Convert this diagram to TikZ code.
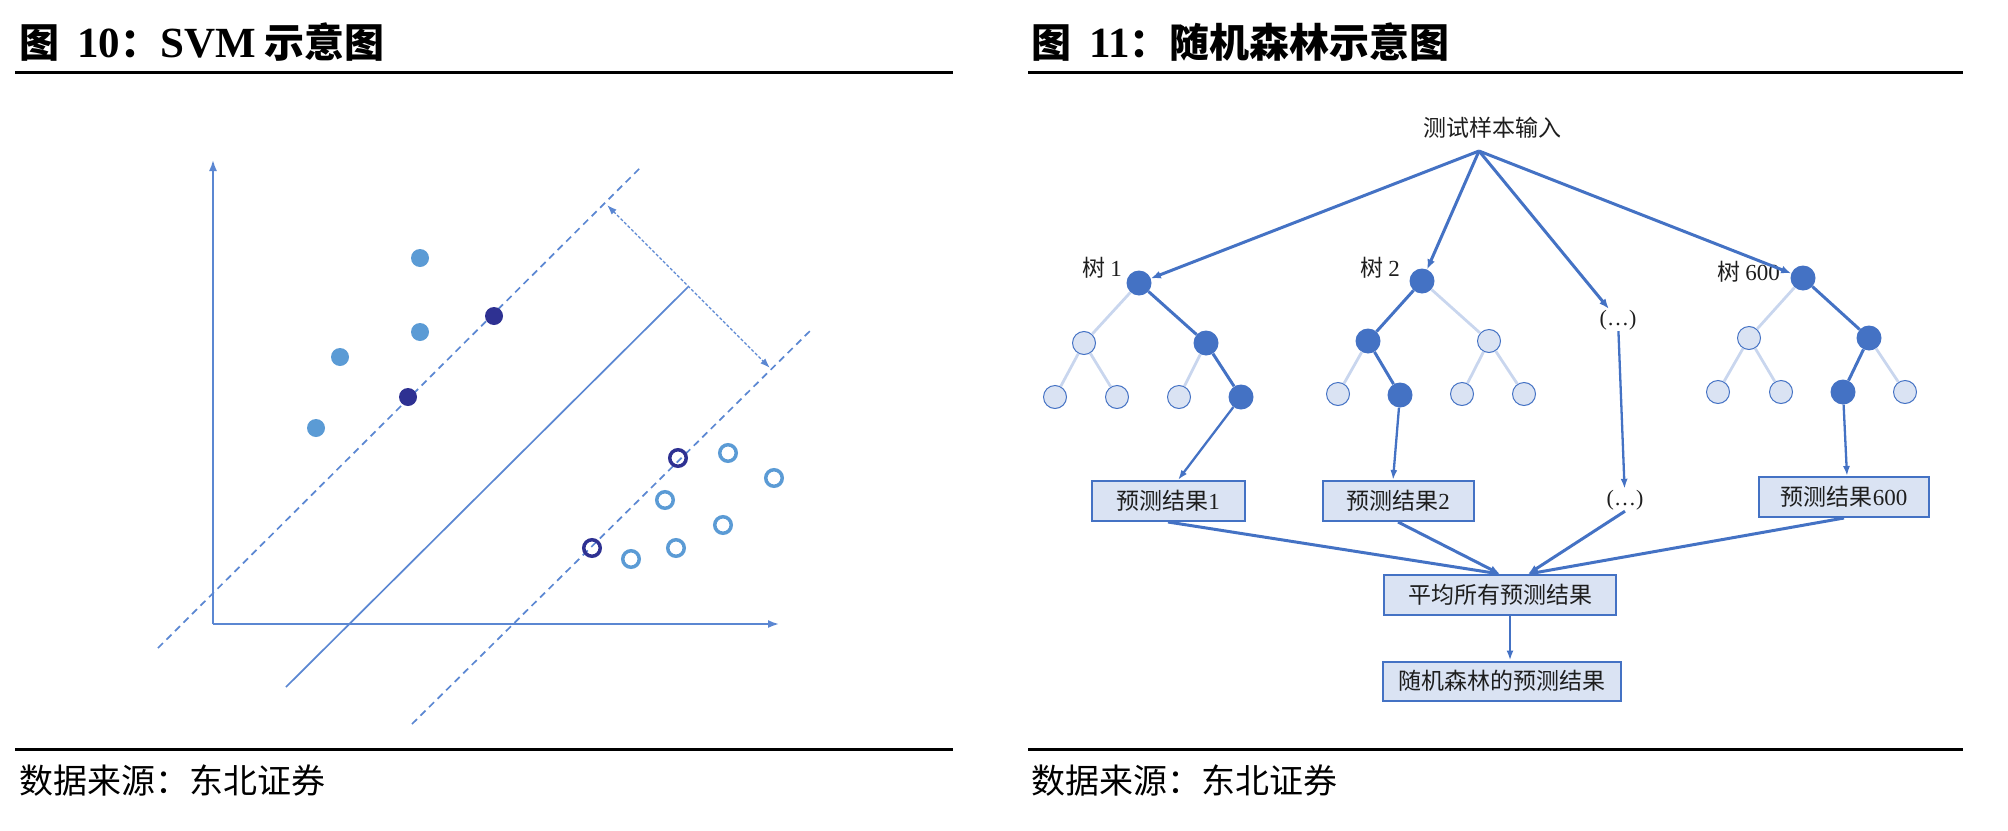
\documentclass[tikz,border=0pt]{standalone}
\usepackage{fontspec}
\setmainfont{Liberation Serif}
\newfontfamily\cjk{Noto Sans CJK SC}
\usetikzlibrary{arrows.meta}
\definecolor{lineblue}{HTML}{5B87D2}
\definecolor{dotblue}{HTML}{5B9BD5}
\definecolor{navy}{HTML}{2E3192}
\definecolor{treeblue}{HTML}{4472C4}
\definecolor{lightfill}{HTML}{DAE3F3}
\definecolor{lightedge}{HTML}{C9D6EE}
\definecolor{txt}{HTML}{1E1E1E}
\begin{document}
\begin{tikzpicture}[x=1pt,y=-1pt,
  rulestyle/.style={line width=3pt,black},
  titletext/.style={anchor=west,inner sep=0pt,font=\fontsize{40}{40}\selectfont\cjk\bfseries},
  srctext/.style={anchor=west,inner sep=0pt,font=\fontsize{34}{34}\selectfont\cjk},
  axisline/.style={line width=1.8pt,lineblue,-{Latex[length=11pt,width=8pt]}},
  hyperline/.style={line width=1.7pt,lineblue},
  marginline/.style={line width=1.7pt,lineblue,dash pattern=on 7pt off 5pt},
  gapline/.style={line width=1.4pt,lineblue,dash pattern=on 3pt off 2pt,{Latex[length=10pt,width=7pt]}-{Latex[length=10pt,width=7pt]}},
  dotA/.style={circle,fill=dotblue,minimum size=18pt,inner sep=0pt},
  dotN/.style={circle,fill=navy,minimum size=18pt,inner sep=0pt},
  ringA/.style={circle,draw=dotblue,line width=3.5pt,minimum size=16.5pt,inner sep=0pt},
  ringN/.style={circle,draw=navy,line width=3.5pt,minimum size=16.5pt,inner sep=0pt},
  tdark/.style={circle,fill=treeblue,minimum size=25pt,inner sep=0pt},
  tlight/.style={circle,fill=lightfill,draw=treeblue,line width=1pt,minimum size=23pt,inner sep=0pt},
  edark/.style={line width=3pt,treeblue},
  elight/.style={line width=2.8pt,lightedge},
  arr/.style={line width=3pt,treeblue,-{Latex[length=10pt,width=8pt]}},
  arrthin/.style={line width=2.3pt,treeblue,-{Latex[length=10pt,width=7pt]}},
  rftext/.style={inner sep=1pt,text=txt,font=\fontsize{23}{23}\selectfont\cjk},
  resbox/.style={draw=treeblue,line width=2pt,fill=lightfill,inner sep=0pt,text=txt,font=\fontsize{23}{23}\selectfont\cjk},
]
\useasboundingbox (0,0) rectangle (2008,830);

% ---------- titles, rules, sources ----------
\node[titletext] (titleL) at (19,42) {图\hspace{18pt}{\rmfamily\fontsize{43}{43}\selectfont 10}：{\rmfamily\fontsize{43}{43}\selectfont SVM} 示意图};
\node[titletext] (titleR) at (1031,42) {图\hspace{18pt}{\rmfamily\fontsize{43}{43}\selectfont 11}：随机森林示意图};
\draw[rulestyle] (15,72) -- (953,72);
\draw[rulestyle] (1028,72) -- (1963,72);
\draw[rulestyle] (15,749) -- (953,749);
\draw[rulestyle] (1028,749) -- (1963,749);
\node[srctext] (srcL) at (19,781) {数据来源：东北证券};
\node[srctext] (srcR) at (1031,781) {数据来源：东北证券};

% ---------- SVM ----------
\coordinate (O) at (213,624);
\coordinate (Ytop) at (213,160);
\coordinate (Xend) at (779,624);
\draw[axisline] (O) -- (Ytop);
\draw[axisline] (O) -- (Xend);
\coordinate (m1a) at (158,648);
\coordinate (m1b) at (640,168);
\coordinate (h1) at (286,687);
\coordinate (h2) at (688,287);
\coordinate (m2a) at (412,724);
\coordinate (m2b) at (813,328);
\coordinate (g1) at (607,205);
\coordinate (g2) at (770,368);
\draw[marginline] (m1a) -- (m1b);
\draw[hyperline] (h1) -- (h2);
\draw[marginline] (m2a) -- (m2b);
\draw[gapline] (g1) -- (g2);

\node[dotA] (a1) at (420,258) {};
\node[dotA] (a2) at (420,332) {};
\node[dotA] (a3) at (340,357) {};
\node[dotA] (a4) at (316,428) {};
\node[dotN] (n1) at (494,316) {};
\node[dotN] (n2) at (408,397) {};
\node[ringN] (r1) at (678,458) {};
\node[ringN] (r2) at (592,548) {};
\node[ringA] (b1) at (728,453) {};
\node[ringA] (b2) at (774,478) {};
\node[ringA] (b3) at (665,500) {};
\node[ringA] (b4) at (723,525) {};
\node[ringA] (b5) at (676,548) {};
\node[ringA] (b6) at (631,559) {};

% ---------- Random forest ----------
\node[rftext] (input) at (1492,128) {测试样本输入};
\coordinate (src) at (1479,151);

\node[rftext,anchor=east] (lab1) at (1123,268) {树 {\rmfamily 1}};
\node[rftext,anchor=east] (lab2) at (1401,268) {树 {\rmfamily 2}};
\node[rftext,anchor=east] (lab600) at (1781,272) {树 {\rmfamily 600}};

% tree 1
\node[tdark] (t1r) at (1139,283) {};
\node[tlight] (t1a) at (1084,343) {};
\node[tdark] (t1b) at (1206,343) {};
\node[tlight] (t1c) at (1055,397) {};
\node[tlight] (t1d) at (1117,397) {};
\node[tlight] (t1e) at (1179,397) {};
\node[tdark] (t1f) at (1241,397) {};
\draw[elight] (t1r) -- (t1a);
\draw[edark] (t1r) -- (t1b);
\draw[elight] (t1a) -- (t1c);
\draw[elight] (t1a) -- (t1d);
\draw[elight] (t1b) -- (t1e);
\draw[edark] (t1b) -- (t1f);

% tree 2
\node[tdark] (t2r) at (1422,281) {};
\node[tdark] (t2a) at (1368,341) {};
\node[tlight] (t2b) at (1489,341) {};
\node[tlight] (t2c) at (1338,394) {};
\node[tdark] (t2d) at (1400,395) {};
\node[tlight] (t2e) at (1462,394) {};
\node[tlight] (t2f) at (1524,394) {};
\draw[edark] (t2r) -- (t2a);
\draw[elight] (t2r) -- (t2b);
\draw[elight] (t2a) -- (t2c);
\draw[edark] (t2a) -- (t2d);
\draw[elight] (t2b) -- (t2e);
\draw[elight] (t2b) -- (t2f);

% tree 600
\node[tdark] (t6r) at (1803,278) {};
\node[tlight] (t6a) at (1749,338) {};
\node[tdark] (t6b) at (1869,338) {};
\node[tlight] (t6c) at (1718,392) {};
\node[tlight] (t6d) at (1781,392) {};
\node[tdark] (t6e) at (1843,392) {};
\node[tlight] (t6f) at (1905,392) {};
\draw[elight] (t6r) -- (t6a);
\draw[edark] (t6r) -- (t6b);
\draw[elight] (t6a) -- (t6c);
\draw[elight] (t6a) -- (t6d);
\draw[edark] (t6b) -- (t6e);
\draw[elight] (t6b) -- (t6f);

% ellipsis column
\node[rftext,font=\fontsize{22}{22}\selectfont\rmfamily] (dots1) at (1618,320) {(…)};
\node[rftext,font=\fontsize{22}{22}\selectfont\rmfamily] (dots2) at (1625,500) {(…)};

% result boxes
\node[resbox,minimum width=153pt,minimum height=40pt] (res1) at (1168,501) {预测结果{\rmfamily 1}};
\node[resbox,minimum width=151pt,minimum height=40pt] (res2) at (1398,501) {预测结果{\rmfamily 2}};
\node[resbox,minimum width=170pt,minimum height=40pt] (res600) at (1844,497) {预测结果{\rmfamily 600}};
\node[resbox,minimum width=232pt,minimum height=40pt] (avg) at (1500,595) {平均所有预测结果};
\node[resbox,minimum width=238pt,minimum height=39pt] (final) at (1502,681) {随机森林的预测结果};

% arrows from input
\draw[arr] (src) -- (t1r);
\draw[arr] (src) -- (t2r);
\draw[arr] (src) -- (dots1);
\draw[arr] (src) -- (t6r);

% leaves to results
\draw[arrthin] (t1f) -- ([xshift=10pt]res1.north);
\draw[arrthin] (t2d) -- ([xshift=-5pt]res2.north);
\draw[arrthin] (dots1) -- (dots2);
\draw[arrthin] (t6e) -- ([xshift=3pt]res600.north);

% results to average
\draw[arr] (res1.south) -- (avg.north);
\draw[arr] (res2.south) -- (avg.north);
\draw[arr] (dots2.south) -- ([xshift=28pt]avg.north);
\draw[arr] (res600.south) -- ([xshift=28pt]avg.north);
\draw[arrthin] ([xshift=10pt]avg.south) -- ([xshift=8pt]final.north);
\end{tikzpicture}
\end{document}
